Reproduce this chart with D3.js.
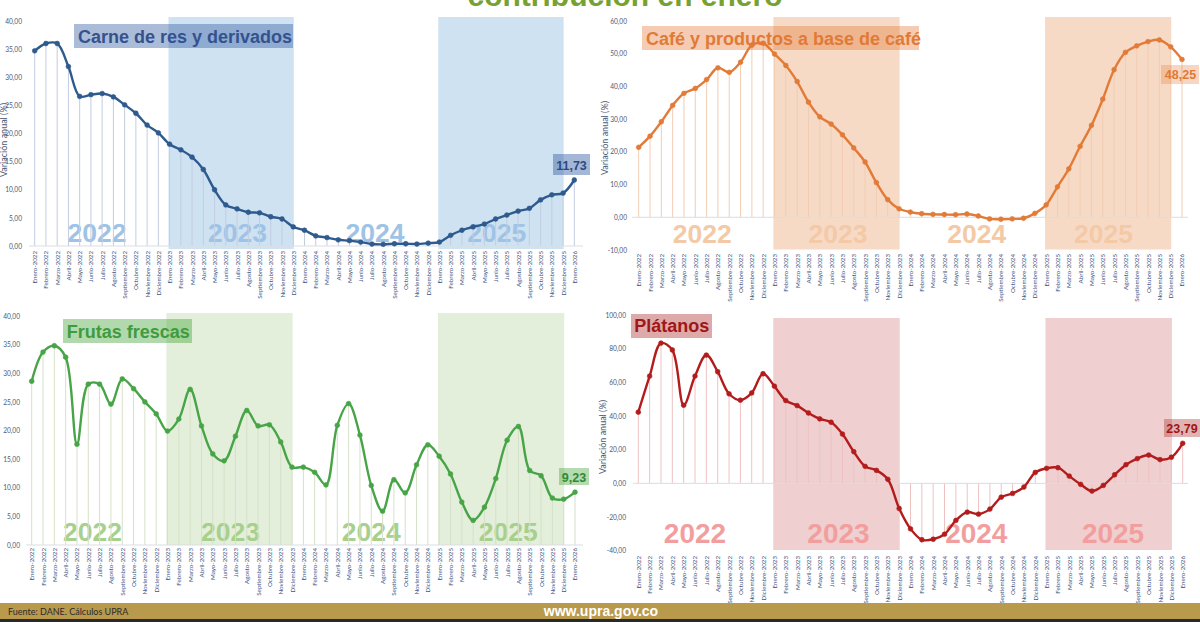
<!DOCTYPE html>
<html><head><meta charset="utf-8">
<script src="https://cdn.jsdelivr.net/npm/d3@7"></script>
<style>body{margin:0;background:#fff;overflow:hidden} svg{display:block;}</style>
</head><body>
<svg id="c" width="1200" height="622"></svg>
<script>
// ---------- DATA ----------
const months = ["Enero","Febrero","Marzo","Abril","Mayo","Junio","Julio","Agosto","Septiembre","Octubre","Noviembre","Diciembre"];
const years = [2022, 2023, 2024, 2025];
const categories = years.flatMap(yr => months.map(m => m + "-" + yr)).concat(["Enero-2026"]);

const carne = [34.7, 36.0, 36.0, 31.9, 26.6, 26.9, 27.1, 26.5, 25.1, 23.6, 21.5, 20.1,
  18.1, 17.1, 15.8, 13.6, 10.0, 7.3, 6.6, 6.0, 5.9, 5.2, 4.8, 3.4,
  2.8, 1.8, 1.5, 1.1, 0.95, 0.7, 0.35, 0.3, 0.4, 0.4, 0.35, 0.5,
  0.7, 1.9, 2.8, 3.4, 3.9, 4.8, 5.5, 6.2, 6.7, 8.2, 9.1, 9.4,
  11.73];
const cafe = [21.4, 24.8, 29.2, 34.2, 37.9, 39.4, 42.1, 45.7, 44.3, 47.4, 52.6, 53.2,
  49.9, 46.4, 41.5, 35.2, 30.7, 28.5, 25.2, 21.2, 16.9, 10.6, 5.4, 2.6,
  1.6, 1.1, 0.9, 0.85, 0.8, 1.0, 0.4, -0.5, -0.6, -0.5, -0.3, 1.2,
  3.8, 9.3, 14.8, 21.7, 28.1, 36.1, 45.1, 50.4, 52.4, 53.7, 54.2, 52.1,
  48.25];
const frutas = [28.6, 33.7, 34.8, 32.8, 17.6, 28.1, 28.1, 24.6, 29.0, 27.3, 25.0, 22.9,
  19.9, 22.0, 27.2, 20.8, 15.9, 14.7, 19.0, 23.5, 20.8, 21.0, 18.0, 13.6,
  13.6, 12.7, 10.5, 20.9, 24.7, 19.2, 10.4, 5.9, 11.4, 9.1, 14.0, 17.5,
  15.5, 12.4, 7.5, 4.3, 6.6, 11.6, 18.3, 20.7, 13.0, 12.1, 8.2, 8.0,
  9.23];
const platanos = [42.3, 63.7, 83.3, 79.2, 46.4, 63.7, 76.2, 66.3, 53.2, 49.4, 53.7, 65.1,
  57.7, 49.2, 46.2, 41.8, 38.3, 36.3, 29.3, 18.8, 10.1, 7.7, 2.4, -14.9,
  -27.0, -33.5, -33.2, -30.2, -22.0, -17.1, -18.3, -15.3, -8.2, -6.0, -2.2, 6.5,
  8.9, 9.3, 4.3, -0.6, -4.6, -1.2, 5.1, 11.1, 14.7, 16.8, 14.1, 15.5,
  23.79];

const titles = ["Carne de res y derivados", "Café y productos a base de café", "Frutas frescas", "Plátanos"];
const yearLabels = ["2022", "2023", "2024", "2025"];
const lastLabels = ["11,73", "48,25", "9,23", "23,79"];
const ticksCarne = [0, 5, 10, 15, 20, 25, 30, 35, 40];
const ticksCafe = [-10, 0, 10, 20, 30, 40, 50, 60];
const ticksFrutas = [0, 5, 10, 15, 20, 25, 30, 35, 40];
const ticksPlatanos = [-40, -20, 0, 20, 40, 60, 80, 100];
const yTitle = "Variación anual (%)";
const headerText = "contribución en enero";
const sourceText = "Fuente: DANE. Cálculos UPRA";
const siteText = "www.upra.gov.co";

// ---------- RENDER ----------
const locale = d3.formatLocale({decimal: ",", thousands: ".", grouping: [3], currency: ["$", ""], minus: "-"});
const fmt = locale.format(".2f");
const svg = d3.select("#c");
const SANS = "Lato, 'Open Sans', sans-serif";
const ARIAL = "'Liberation Sans', Arial, sans-serif";

// Shaded year bands: 2023 (idx 12..23) and 2025 (idx 36..47)
const bandIdx = [[12, 23], [36, 47]];

const panels = [
  {series: carne, ticks: ticksCarne, domain: [0, 40], x0: 34.7, x1: 574.3, yb: 246, yt: 21,
   bandTop: 17, bandBot: 249, tickX: 22, xLabTop: 251, axisX0: 29, axisX1: 583,
   line: "#2e5a8e", drop: "#c3cde0", band: "#cfe2f1", year: "#9ec3e6", yearSize: 26.5, yearBase: 241.5,
   yearPos: [5.54, 18.04, 30.28, 41.1],
   title: {x: 74, y: 24, w: 219, h: 24, tx: 78, ty: 42.7, fill: "rgba(55,95,165,0.42)", color: "#33528e"},
   val: {x: 553, y: 154, w: 37, h: 21, tx: 571.5, ty: 169.5, fill: "rgba(55,95,165,0.45)", color: "#2c4a82"},
   yTitle: {x: 4, y: 140}},
  {series: cafe, ticks: ticksCafe, domain: [-10, 60], x0: 638.7, x1: 1182, yb: 250, yt: 21,
   bandTop: 17, bandBot: 249.5, tickX: 627, xLabTop: 254, axisX0: 632, axisX1: 1188,
   line: "#e27b38", drop: "#f2cdb2", band: "#f6dac6", year: "#f3c9a6", yearSize: 26.5, yearBase: 243.3,
   yearPos: [5.62, 17.6, 29.87, 41.06],
   title: {x: 642, y: 26, w: 277, h: 24, tx: 646, ty: 45, fill: "rgba(228,122,55,0.38)", color: "#e07a36"},
   val: {x: 1161, y: 65, w: 38, h: 19, tx: 1180.5, ty: 79.3, fill: "rgba(228,122,55,0.30)", color: "#e07a36"},
   yTitle: {x: 605, y: 138}},
  {series: frutas, ticks: ticksFrutas, domain: [0, 40], x0: 31.7, x1: 575, yb: 545, yt: 316,
   bandTop: 313, bandBot: 545, tickX: 20, xLabTop: 548, axisX0: 26, axisX1: 583,
   line: "#47a447", drop: "#d6e0c8", band: "#e3efda", year: "#a8d08d", yearSize: 26.5, yearBase: 540.7,
   yearPos: [5.37, 17.56, 30.0, 42.1],
   title: {x: 63, y: 319, w: 129, h: 24, tx: 66.7, ty: 337.7, fill: "rgba(70,165,60,0.42)", color: "#3e9c3e"},
   val: {x: 559, y: 468, w: 30, h: 17, tx: 574, ty: 481.7, fill: "rgba(70,165,60,0.40)", color: "#2f8a36"},
   yTitle: null},
  {series: platanos, ticks: ticksPlatanos, domain: [-40, 100], x0: 638.3, x1: 1182.7, yb: 550.7, yt: 315,
   bandTop: 318, bandBot: 550, tickX: 626, xLabTop: 556, axisX0: 633, axisX1: 1188,
   line: "#b31c1c", drop: "#efc2c2", band: "#efcfcf", year: "#f29e9e", yearSize: 28, yearBase: 543.3,
   yearPos: [5.0, 17.65, 29.8, 41.86],
   title: {x: 631, y: 314, w: 81, h: 24, tx: 634.3, ty: 332.3, fill: "rgba(170,40,40,0.40)", color: "#a01616"},
   val: {x: 1164, y: 419, w: 36, h: 18, tx: 1182, ty: 432.7, fill: "rgba(170,40,40,0.35)", color: "#a01616"},
   yTitle: {x: 603, y: 437}}
];

panels.forEach((p, pi) => {
  const g = svg.append("g");
  const x = d3.scaleLinear().domain([0, categories.length - 1]).range([p.x0, p.x1]);
  const y = d3.scaleLinear().domain(p.domain).range([p.yb, p.yt]);

  // bands
  bandIdx.forEach(([a, b]) => {
    g.append("rect")
      .attr("x", x(a - 0.1)).attr("width", x(b + 0.05) - x(a - 0.1))
      .attr("y", p.bandTop).attr("height", p.bandBot - p.bandTop)
      .attr("fill", p.band);
  });

  // year labels
  yearLabels.forEach((t, i) => {
    g.append("text").attr("x", x(p.yearPos[i])).attr("y", p.yearBase)
      .attr("text-anchor", "middle").attr("font-family", ARIAL).attr("font-weight", "bold")
      .attr("font-size", p.yearSize).attr("fill", p.year).text(t);
  });

  // drop lines
  g.append("g").selectAll("line").data(p.series).join("line")
    .attr("x1", (d, i) => x(i)).attr("x2", (d, i) => x(i))
    .attr("y1", y(0)).attr("y2", d => y(d))
    .attr("stroke", p.drop).attr("stroke-width", 1);

  // zero axis line
  g.append("line").attr("x1", p.axisX0).attr("x2", p.axisX1)
    .attr("y1", y(0)).attr("y2", y(0)).attr("stroke", "#d9dde4").attr("stroke-width", 1);

  // y axis labels
  const ya = g.append("g").attr("transform", `translate(${p.tickX},0)`)
    .call(d3.axisLeft(y).tickValues(p.ticks).tickSize(0).tickPadding(0).tickFormat(fmt));
  ya.select(".domain").remove();
  ya.selectAll("text").attr("font-family", SANS).attr("font-size", 6.6).attr("fill", "#4b5a78");

  // x axis labels (rotated)
  const xa = g.append("g").attr("transform", `translate(0,${p.xLabTop})`)
    .call(d3.axisBottom(x).tickValues(d3.range(categories.length)).tickSize(0).tickFormat(i => categories[i]));
  xa.select(".domain").remove();
  xa.selectAll("text")
    .attr("transform", "rotate(-90)").attr("x", 0).attr("y", 0).attr("dy", "0.32em")
    .attr("text-anchor", "end")
    .attr("font-family", SANS).attr("font-size", 6.2).attr("fill", "#3d5585");

  // line
  const line = d3.line().x((d, i) => x(i)).y(d => y(d)).curve(d3.curveCatmullRom.alpha(0.5));
  g.append("path").datum(p.series).attr("d", line)
    .attr("fill", "none").attr("stroke", p.line).attr("stroke-width", 2.4)
    .attr("stroke-linejoin", "round");
  g.append("g").selectAll("circle").data(p.series).join("circle")
    .attr("cx", (d, i) => x(i)).attr("cy", d => y(d)).attr("r", 2.4)
    .attr("fill", p.line).attr("stroke", p.line).attr("stroke-width", 0.6);

  // title box
  g.append("rect").attr("x", p.title.x).attr("y", p.title.y).attr("width", p.title.w).attr("height", p.title.h)
    .attr("fill", p.title.fill);
  g.append("text").attr("x", p.title.tx).attr("y", p.title.ty)
    .attr("font-family", ARIAL).attr("font-weight", "bold").attr("font-size", 18)
    .attr("fill", p.title.color).text(titles[pi]);

  // last value label
  g.append("rect").attr("x", p.val.x).attr("y", p.val.y).attr("width", p.val.w).attr("height", p.val.h)
    .attr("fill", p.val.fill);
  g.append("text").attr("x", p.val.tx).attr("y", p.val.ty).attr("text-anchor", "middle")
    .attr("font-family", ARIAL).attr("font-weight", "bold").attr("font-size", 12.5)
    .attr("fill", p.val.color).text(lastLabels[pi]);

  // y title
  if (p.yTitle) {
    g.append("text").attr("transform", `translate(${p.yTitle.x},${p.yTitle.y}) rotate(-90)`)
      .attr("text-anchor", "middle").attr("dy", "0.35em")
      .attr("font-family", SANS).attr("font-size", 9).attr("fill", "#4b5a78").text(yTitle);
  }
});

// header (cut off at top)
svg.append("text").attr("x", 625).attr("y", 6).attr("text-anchor", "middle")
  .attr("font-family", ARIAL).attr("font-weight", "bold").attr("font-size", 30)
  .attr("fill", "#78a22f").text(headerText);

// footer
svg.append("rect").attr("x", 0).attr("y", 603).attr("width", 1200).attr("height", 16).attr("fill", "#b9994b");
svg.append("rect").attr("x", 0).attr("y", 619).attr("width", 1200).attr("height", 3).attr("fill", "#2a2a2a");
svg.append("text").attr("x", 8).attr("y", 615).attr("font-family", SANS).attr("font-size", 9)
  .attr("fill", "#2b2b2b").text(sourceText);
svg.append("text").attr("x", 601).attr("y", 616).attr("text-anchor", "middle").attr("font-family", ARIAL)
  .attr("font-weight", "bold").attr("font-size", 14).attr("fill", "#ffffff").text(siteText);
</script>
</body></html>
